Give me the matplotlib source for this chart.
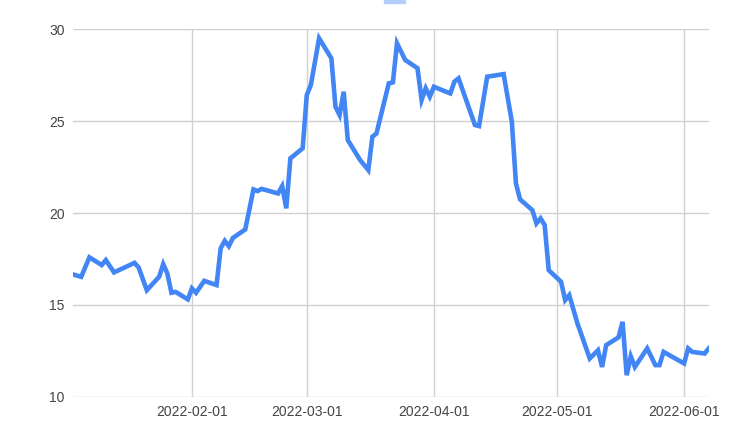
import matplotlib
matplotlib.use("Agg")
import matplotlib.pyplot as plt
import matplotlib.dates as mdates
import matplotlib.patches as mpatches
import pandas as pd

dates = [
    "2022-01-03", "2022-01-05", "2022-01-07", "2022-01-10", "2022-01-11", "2022-01-13",
    "2022-01-18", "2022-01-19", "2022-01-21", "2022-01-24", "2022-01-25", "2022-01-26",
    "2022-01-27", "2022-01-28", "2022-01-31", "2022-02-01", "2022-02-02", "2022-02-04",
    "2022-02-07", "2022-02-08", "2022-02-09", "2022-02-10", "2022-02-11", "2022-02-14",
    "2022-02-16", "2022-02-17", "2022-02-18", "2022-02-22", "2022-02-23", "2022-02-24",
    "2022-02-25", "2022-02-28", "2022-03-01", "2022-03-02", "2022-03-04", "2022-03-07",
    "2022-03-08", "2022-03-09", "2022-03-10", "2022-03-11", "2022-03-14", "2022-03-16",
    "2022-03-17", "2022-03-18", "2022-03-21", "2022-03-22", "2022-03-23", "2022-03-25",
    "2022-03-28", "2022-03-29", "2022-03-30", "2022-03-31", "2022-04-01", "2022-04-05",
    "2022-04-06", "2022-04-07", "2022-04-11", "2022-04-12", "2022-04-14", "2022-04-18",
    "2022-04-20", "2022-04-21", "2022-04-22", "2022-04-25", "2022-04-26", "2022-04-27",
    "2022-04-28", "2022-04-29", "2022-05-02", "2022-05-03", "2022-05-04", "2022-05-06",
    "2022-05-09", "2022-05-11", "2022-05-12", "2022-05-13", "2022-05-16", "2022-05-17",
    "2022-05-18", "2022-05-19", "2022-05-20", "2022-05-23", "2022-05-25", "2022-05-26",
    "2022-05-27", "2022-06-01", "2022-06-02", "2022-06-03", "2022-06-06", "2022-06-07",
]
values = [
    16.66, 16.53, 17.59, 17.17, 17.44, 16.77,
    17.29, 17.04, 15.80, 16.53, 17.22, 16.71,
    15.66, 15.71, 15.30, 15.90, 15.66, 16.31,
    16.08, 18.08, 18.49, 18.20, 18.65, 19.11,
    21.29, 21.20, 21.32, 21.07, 21.47, 20.26,
    22.98, 23.53, 26.43, 26.98, 29.52, 28.43,
    25.79, 25.34, 26.61, 23.98, 22.89, 22.34,
    24.16, 24.34, 27.07, 27.12, 29.25, 28.34,
    27.89, 26.16, 26.80, 26.34, 26.88, 26.52,
    27.16, 27.34, 24.80, 24.74, 27.43, 27.57,
    24.98, 21.62, 20.75, 20.16, 19.44, 19.71,
    19.35, 16.89, 16.26, 15.26, 15.53, 13.99,
    12.08, 12.53, 11.62, 12.81, 13.23, 14.08,
    11.17, 12.20, 11.62, 12.63, 11.72, 11.72,
    12.44, 11.81, 12.63, 12.44, 12.35, 12.63,
]
x_ticks = ["2022-02-01", "2022-03-01", "2022-04-01", "2022-05-01", "2022-06-01"]
y_ticks = [10, 15, 20, 25, 30]

W, H = 740, 436
fig = plt.figure(figsize=(W / 100, H / 100), dpi=100)
left, right, top, bottom = 73, 708.7, 29.5, 396.7
ax = fig.add_axes([left / W, 1 - bottom / H, (right - left) / W, (bottom - top) / H])

d = pd.to_datetime(dates)
ax.plot(d, values, color="#4285f4", lw=3.3, solid_joinstyle="miter", zorder=3)

ax.set_xlim(pd.Timestamp(dates[0]), pd.Timestamp(dates[-1]))
ax.set_ylim(y_ticks[0], y_ticks[-1])
ax.set_xticks(pd.to_datetime(x_ticks))
ax.xaxis.set_major_formatter(mdates.DateFormatter("%Y-%m-%d"))
ax.set_yticks(y_ticks)
ax.grid(True, color="#d0d0d0", lw=1)
ax.set_axisbelow(True)
for s in ax.spines.values():
    s.set_visible(False)
ax.tick_params(length=0, labelsize=10, labelcolor="#444444", pad=6)
for lab in ax.get_xticklabels() + ax.get_yticklabels():
    lab.set_fontfamily("Liberation Sans")

# legend marker strip at the top
fig.patches.append(mpatches.Rectangle((383.5 / W, 1 - 3 / H), 21 / W, 3 / H,
                                      transform=fig.transFigure, color="#b3cefb",
                                      figure=fig))

fig.savefig("out.png", dpi=100)
